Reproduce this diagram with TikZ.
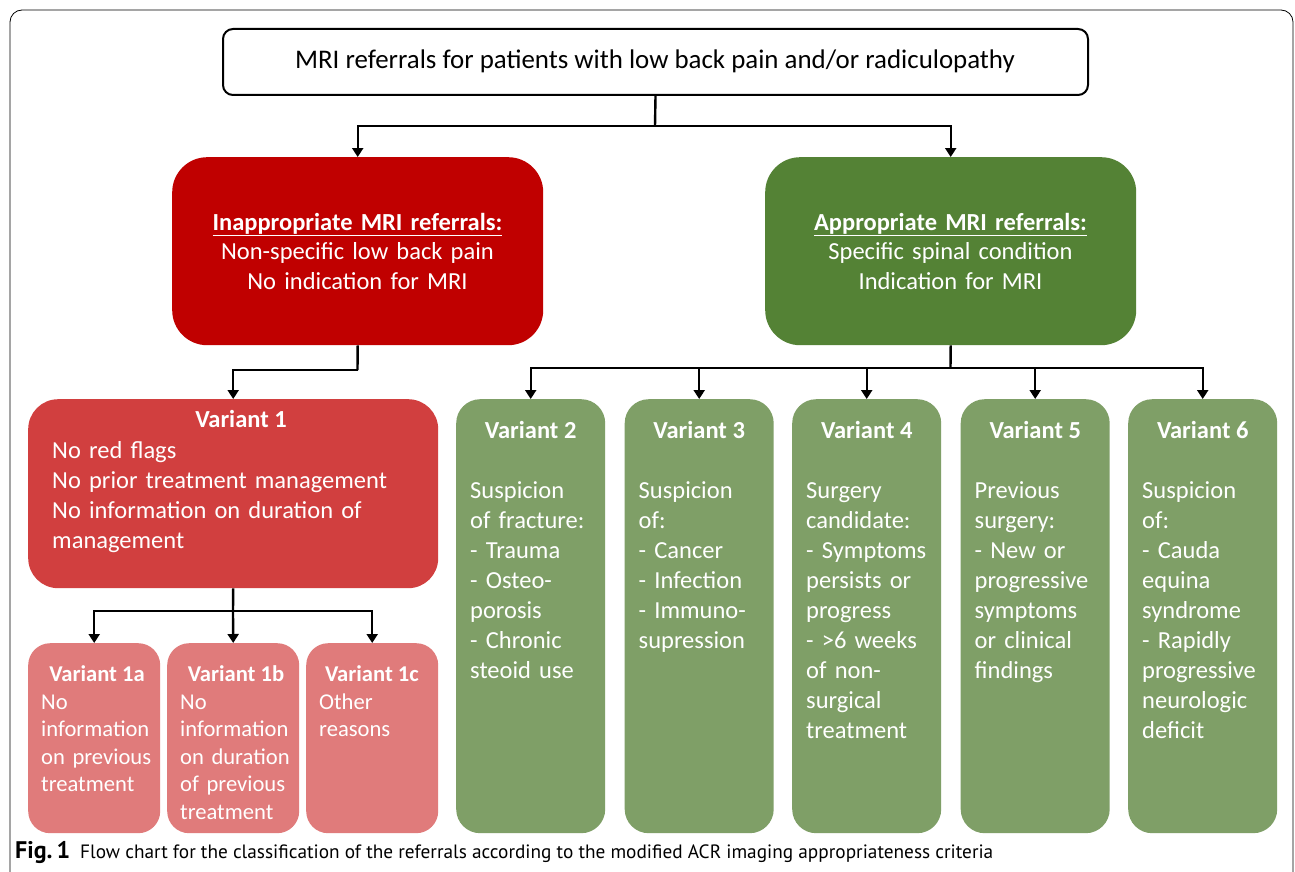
\documentclass[tikz,border=0pt]{standalone}
\usepackage{fontspec}
\setmainfont{Carlito}
\newfontfamily\capfont{PT Sans}
\usetikzlibrary{arrows.meta}
\definecolor{redA}{HTML}{C00000}
\definecolor{greenA}{HTML}{548235}
\definecolor{redB}{HTML}{D13F3F}
\definecolor{redC}{HTML}{E07B7B}
\definecolor{greenB}{HTML}{7F9F67}
\tikzset{
  bigbox/.style={rounded corners=35pt, draw=none, inner sep=0pt, anchor=north west},
  varbox/.style={rounded corners=24pt, draw=none, fill=greenB, inner sep=0pt, anchor=north west, minimum width=149pt, minimum height=434pt},
  subbox/.style={rounded corners=22pt, draw=none, fill=redC, inner sep=0pt, anchor=north west, minimum width=132pt, minimum height=190pt},
  wtext/.style={text=white, inner sep=0pt, font=\fontsize{24.5}{30}\selectfont, align=left},
  wtitle/.style={text=white, inner sep=0pt, font=\bfseries\fontsize{24.5}{30}\selectfont},
  stext/.style={text=white, inner sep=0pt, font=\fontsize{22.6}{27.6}\selectfont, align=left},
  stitle/.style={text=white, inner sep=0pt, font=\bfseries\fontsize{22.6}{27.6}\selectfont},
  conn/.style={line width=2.4pt, draw=black},
  arr/.style={conn, -{Triangle[length=9pt,width=11pt]}},
}
\begin{document}
\begin{tikzpicture}[x=1pt,y=-1pt]
\useasboundingbox (0,0) rectangle (1295,872);
\fill[white] (0,0) rectangle (1295,872);
% outer frame
\draw[line width=0.8pt, rounded corners=12pt] (10,875) -- (10,10) -- (1293,10) -- (1293,875);

% top box
\node[draw=black, line width=2pt, rounded corners=10pt, minimum width=865pt, minimum height=66pt, anchor=north west, inner sep=0pt] (top) at (222,28) {};
\node[inner sep=0pt, font=\fontsize{26.9}{30}\selectfont] (toptxt) at (655,61) {MRI referrals for patients with low back pain and/or radiculopathy};

% level 2
\node[bigbox, fill=redA, minimum width=371pt, minimum height=188pt] (inap) at (172,157) {};
\node[bigbox, fill=greenA, minimum width=371pt, minimum height=188pt] (app) at (765,157) {};
\node[wtext, align=center, text width=370pt, anchor=base] (inaptxt) at (357.5,230)
  {\textbf{\underline{Inappropriate MRI referrals:}}\\[-0.5pt]Non-specific low back pain\\No indication for MRI};
\node[wtext, align=center, text width=370pt, anchor=base] (apptxt) at (950.5,230)
  {\textbf{\underline{Appropriate MRI referrals:}}\\[-0.5pt]Specific spinal condition\\Indication for MRI};

% variant 1
\node[bigbox, fill=redB, rounded corners=30pt, minimum width=410pt, minimum height=189pt] (v1) at (28,399) {};
\node[wtitle, anchor=base] (v1t) at (241,427) {Variant 1};
\node[wtext, text width=380pt, anchor=base west] (v1b) at (52,458)
  {No red flags\\No prior treatment management\\No information on duration of\\management};

% sub variants
\node[subbox] (v1a) at (28,643) {};
\node[subbox] (v1bb) at (167,643) {};
\node[subbox] (v1c) at (306,643) {};
\node[stitle, anchor=base] (v1at) at (97,681) {Variant 1a};
\node[stitle, anchor=base] (v1bt) at (236,681) {Variant 1b};
\node[stitle, anchor=base] (v1ct) at (372,681) {Variant 1c};
\node[stext, text width=125pt, anchor=base west] (v1ax) at (41,709) {No\\information\\on previous\\treatment};
\node[stext, text width=125pt, anchor=base west] (v1bx) at (180,709) {No\\information\\on duration\\of previous\\treatment};
\node[stext, text width=125pt, anchor=base west] (v1cx) at (319,709) {Other\\reasons};

% variants 2-6
\node[varbox] (v2) at (456,399) {};
\node[varbox] (v3) at (624.5,399) {};
\node[varbox] (v4) at (792,399) {};
\node[varbox] (v5) at (960.5,399) {};
\node[varbox] (v6) at (1128,399) {};
\foreach \n/\t in {v2/Variant 2,v3/Variant 3,v4/Variant 4,v5/Variant 5,v6/Variant 6}{
  \node[wtitle, anchor=base] (\n t) at ([yshift=-39pt]\n.north) {\t};
}
\node[wtext, text width=140pt, anchor=base west] (v2x) at (470,498)
  {Suspicion\\of fracture:\\- Trauma\\- Osteo-\\porosis\\- Chronic\\steoid use};
\node[wtext, text width=140pt, anchor=base west] (v3x) at (638.5,498)
  {Suspicion\\of:\\- Cancer\\- Infection\\- Immuno-\\supression};
\node[wtext, text width=140pt, anchor=base west] (v4x) at (806,498)
  {Surgery\\candidate:\\- Symptoms\\persists or\\progress\\- >6 weeks\\of non-\\surgical\\treatment};
\node[wtext, text width=140pt, anchor=base west] (v5x) at (974.5,498)
  {Previous\\surgery:\\- New or\\progressive\\symptoms\\or clinical\\findings};
\node[wtext, text width=140pt, anchor=base west] (v6x) at (1142,498)
  {Suspicion\\of:\\- Cauda\\equina\\syndrome\\- Rapidly\\progressive\\neurologic\\deficit};

% connectors
\coordinate (j1) at (655,126);
\draw[conn] (top.south) -- (j1);
\draw[arr] (j1) -| (inap.north);
\draw[arr] (j1) -| (app.north);
\coordinate (j2) at (357.5,370);
\draw[conn] (inap.south) -- (j2);
\draw[arr] (j2) -| (v1.north);
\coordinate (j3) at (233,611);
\draw[conn] (v1.south) -- (j3);
\draw[arr] (j3) -| (v1a.north);
\draw[arr] (j3) -- (v1bb.north);
\draw[arr] (j3) -| (v1c.north);
\coordinate (j4) at (950.5,368);
\draw[conn] (app.south) -- (j4);
\foreach \n in {v2,v3,v4,v5,v6}{ \draw[arr] (j4) -| (\n.north); }

% caption
\node[inner sep=0pt, anchor=base west, font=\capfont\fontsize{19.3}{22}\selectfont] (cap) at (15,858)
  {{\fontsize{24}{26}\selectfont\textbf{Fig.\,1}}\hspace{10pt}Flow chart for the classification of the referrals according to the modified ACR imaging appropriateness criteria};
\end{tikzpicture}
\end{document}
